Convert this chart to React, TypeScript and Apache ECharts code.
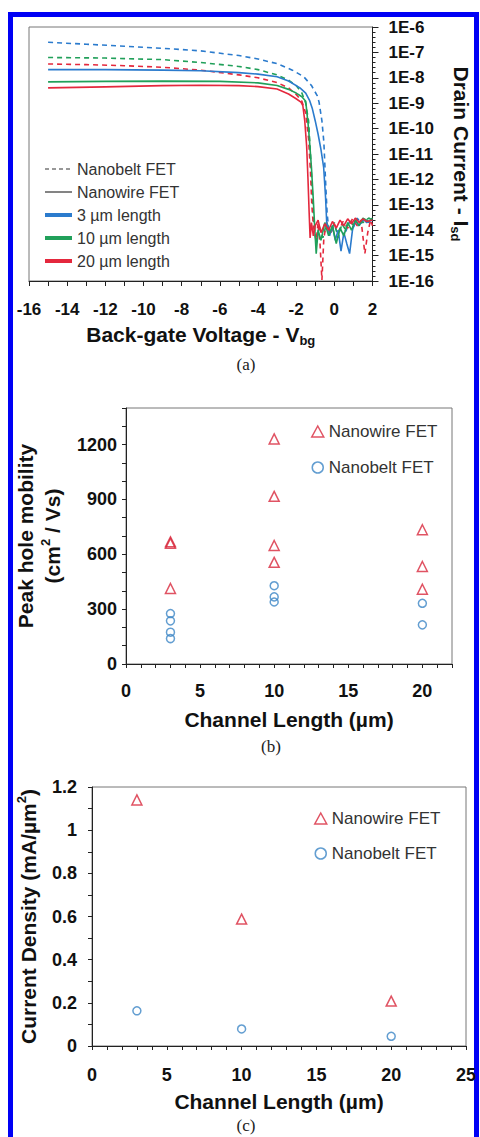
import React, { useEffect, useRef } from 'react';
import * as echarts from 'echarts';

// ---------- (a) transfer curves: [Vbg (V), Isd (A)] ----------
const nanobelt3um: number[][] = [
  [-15, 2.5e-7], [-13, 2.1e-7], [-11, 1.75e-7], [-9, 1.45e-7], [-7, 1.15e-7], [-5, 7.5e-8],
  [-4, 5.5e-8], [-3, 3.6e-8], [-2.2, 2.0e-8], [-1.6, 1.1e-8], [-1.2, 5e-9], [-0.9, 2e-9],
  [-0.8, 1.1e-9], [-0.65, 2e-10], [-0.55, 3e-11], [-0.45, 6e-13], [-0.38, 5e-14], [-0.3, 1.2e-14],
  [-0.2, 8e-15], [0, 1.5e-14], [0.2, 7e-15], [0.4, 2e-14], [0.6, 9e-15], [0.8, 2.2e-14],
  [1.0, 1.3e-14], [1.2, 3e-14], [1.4, 1.8e-14], [1.6, 3e-14], [1.8, 2e-14], [2.0, 2.6e-14],
];
const nanobelt10um: number[][] = [
  [-15, 6.3e-8], [-12, 6.0e-8], [-9, 5.2e-8], [-7, 4.0e-8], [-5, 2.8e-8], [-4, 2.1e-8],
  [-3, 1.3e-8], [-2.4, 8e-9], [-2, 5e-9], [-1.7, 2.5e-9], [-1.5, 1e-9], [-1.35, 2e-10],
  [-1.25, 1e-11], [-1.15, 3e-13], [-1.08, 2e-14], [-0.95, 3e-15], [-0.8, 1.5e-14], [-0.6, 5e-15],
  [-0.4, 2e-14], [-0.2, 8e-15], [0, 2e-14], [0.2, 5e-15], [0.4, 1.8e-14], [0.6, 1e-14],
  [0.8, 2.5e-14], [1.0, 1.5e-14], [1.2, 3e-14], [1.5, 2e-14], [1.8, 3e-14], [2.0, 2.5e-14],
];
const nanobelt20um: number[][] = [
  [-15, 3.5e-8], [-13, 3.3e-8], [-11, 3.0e-8], [-9, 2.6e-8], [-7, 2.0e-8], [-5, 1.3e-8],
  [-4, 1.0e-8], [-3, 6.5e-9], [-2.4, 4e-9], [-2, 2.2e-9], [-1.7, 1.2e-9], [-1.5, 4e-10],
  [-1.35, 4e-11], [-1.25, 2e-12], [-1.18, 1e-13], [-1.1, 1.5e-14], [-0.95, 4e-15], [-0.85, 2e-14],
  [-0.75, 3e-15], [-0.65, 1.1e-16], [-0.55, 5e-15], [-0.4, 2e-14], [-0.2, 7e-15], [0, 1.8e-14],
  [0.2, 8e-15], [0.45, 2.2e-14], [0.7, 1.2e-14], [0.95, 2.8e-14], [1.2, 1.5e-14], [1.4, 2.5e-14],
  [1.6, 1.2e-15], [1.75, 8e-15], [1.9, 2.5e-14], [2.0, 1.5e-14],
];
const nanowire3um: number[][] = [
  [-15, 2.1e-8], [-12, 2.1e-8], [-9, 2.0e-8], [-7, 1.9e-8], [-5, 1.6e-8], [-4, 1.4e-8],
  [-3, 1.1e-8], [-2.4, 7.5e-9], [-1.8, 4e-9], [-1.5, 2.5e-9], [-1.3, 1.3e-9], [-1.15, 6e-10],
  [-1.0, 2e-10], [-0.85, 6e-11], [-0.7, 1.5e-11], [-0.56, 3e-12], [-0.46, 2e-13], [-0.4, 2e-14],
  [-0.25, 6e-15], [-0.1, 1.5e-14], [0.05, 4e-15], [0.2, 1e-14], [0.35, 1.5e-15], [0.5, 8e-15],
  [0.65, 3e-15], [0.8, 1.2e-15], [0.95, 1e-14], [1.1, 2.5e-14], [1.3, 1.5e-14], [1.5, 2.8e-14],
  [1.7, 2e-14], [2.0, 2.5e-14],
];
const nanowire10um: number[][] = [
  [-15, 6.9e-9], [-12, 7.2e-9], [-9, 7.4e-9], [-6, 7.2e-9], [-4, 6.3e-9], [-3, 5e-9],
  [-2.4, 3.5e-9], [-2, 2.5e-9], [-1.7, 1.8e-9], [-1.5, 1.2e-9], [-1.35, 1e-10], [-1.2, 3e-12],
  [-1.1, 1.5e-13], [-1.02, 1e-14], [-0.95, 1.2e-15], [-0.85, 1e-14], [-0.7, 4e-15], [-0.5, 2e-14],
  [-0.3, 6e-15], [-0.1, 1.5e-14], [0.1, 3e-15], [0.3, 1.2e-14], [0.5, 6e-15], [0.7, 2e-14],
  [0.9, 1e-14], [1.1, 2.5e-14], [1.3, 1.5e-14], [1.5, 3e-14], [1.8, 2.2e-14], [2.0, 3e-14],
];
const nanowire20um: number[][] = [
  [-15, 4e-9], [-12, 4.4e-9], [-9, 4.9e-9], [-7, 5.1e-9], [-5, 4.9e-9], [-4, 4.5e-9],
  [-3, 3.6e-9], [-2.4, 2.3e-9], [-2, 1.5e-9], [-1.75, 1.1e-9], [-1.65, 8e-10], [-1.55, 2e-10],
  [-1.45, 2e-11], [-1.38, 1e-12], [-1.32, 5e-14], [-1.27, 5e-15], [-1.2, 2e-14], [-1.1, 6e-15],
  [-1.0, 1.5e-14], [-0.85, 2.5e-14], [-0.7, 8e-15], [-0.5, 1.8e-14], [-0.3, 1e-14], [-0.1, 2.2e-14],
  [0.1, 1.2e-14], [0.3, 2.5e-14], [0.5, 1.5e-14], [0.7, 2.8e-14], [0.9, 1.8e-14], [1.1, 3e-14],
  [1.3, 2e-14], [1.5, 2.8e-14], [1.7, 2.2e-14], [2.0, 2.5e-14],
];

// ---------- (b) peak hole mobility: [channel length (µm), mobility (cm²/Vs)] ----------
const mobilityNanowire: number[][] = [
  [3, 668], [3, 660], [3, 413],
  [10, 1231], [10, 917], [10, 648], [10, 556],
  [20, 734], [20, 533], [20, 409],
];
const mobilityNanobelt: number[][] = [
  [3, 276], [3, 236], [3, 174], [3, 139],
  [10, 428], [10, 367], [10, 339],
  [20, 332], [20, 214],
];

// ---------- (c) current density: [channel length (µm), mA/µm²] ----------
const densityNanowire: number[][] = [[3, 1.14], [10, 0.588], [20, 0.208]];
const densityNanobelt: number[][] = [[3, 0.163], [10, 0.079], [20, 0.045]];

const legendA = ['Nanobelt FET', 'Nanowire FET', '3 µm length', '10 µm length', '20 µm length'];
const legendBC = ['Nanowire FET', 'Nanobelt FET'];

// ---------- styles ----------
const SANS = '"Liberation Sans", Arial, Helvetica, sans-serif';
const SERIF = '"Liberation Serif", "Times New Roman", serif';
const BLUE = '#2b7bcd';
const GREEN = '#21a05a';
const RED = '#e4283d';
const TRI_RED = '#d8283c';
const CIRC_BLUE = '#3c86c6';
const AXIS = '#222';
const FRAME = '#777';
const TXT = '#111';

const axisLine = { show: true, onZero: false, lineStyle: { color: AXIS, width: 1 } };
const tick = (len: number) => ({ show: true, inside: false, length: len, lineStyle: { color: AXIS, width: 1 } });
const tickLabel = (size: number, margin: number) => ({
  fontFamily: SANS, fontWeight: 'bold', fontSize: size, color: TXT, margin,
});
const titleText = { fontFamily: SANS, fontWeight: 'bold', fontSize: 21, color: TXT };
const panelText = { fontFamily: SERIF, fontWeight: 'normal', fontSize: 17, color: '#222' };
const subStyle = { fontFamily: SANS, fontWeight: 'bold', fontSize: 13, color: TXT, lineHeight: 12, verticalAlign: 'bottom' };
const supStyle = { fontFamily: SANS, fontWeight: 'bold', fontSize: 13, color: TXT, lineHeight: 16, verticalAlign: 'top' };

const toLog = (arr: number[][]) => arr.map(([v, i]) => [v, Math.log10(i)]);

const curve = (name: string, data: number[][], color: string, dashed: boolean) => ({
  name, type: 'line', data: toLog(data), symbol: 'none', showSymbol: false, z: dashed ? 2 : 3,
  lineStyle: { color, width: 1.6, type: dashed ? [5, 4] : 'solid' },
});
const dummy = (name: string, color: string, width: number, dashed: boolean) => ({
  name, type: 'line', data: [], symbol: 'none', itemStyle: { color },
  lineStyle: { color, width, type: dashed ? [4, 3] : 'solid' },
});

const optionA: any = {
  animation: false,
  grid: { left: 29, top: 27, width: 347, height: 254, show: true, borderColor: FRAME, borderWidth: 1 },
  title: { text: '(a)', left: 246, top: 356, textAlign: 'center', padding: 0, textStyle: panelText },
  legend: {
    orient: 'vertical', left: 43, top: 161, itemWidth: 27, itemHeight: 14, itemGap: 7, padding: 0,
    selectedMode: false, itemStyle: { opacity: 0 },
    textStyle: { fontFamily: SANS, fontSize: 16, color: '#333' },
    data: [
      { name: legendA[0], lineStyle: { width: 1.2 } },
      { name: legendA[1], lineStyle: { width: 1.2 } },
      { name: legendA[2], lineStyle: { width: 4 } },
      { name: legendA[3], lineStyle: { width: 4 } },
      { name: legendA[4], lineStyle: { width: 4 } },
    ],
  },
  xAxis: {
    type: 'value', min: -16, max: 2, interval: 2,
    axisLine, axisTick: tick(5),
    minorTick: { show: true, splitNumber: 2, length: 5, lineStyle: { color: AXIS } },
    splitLine: { show: false },
    axisLabel: tickLabel(17, 20),
    name: '{m|Back-gate Voltage - V}{s|bg}', nameLocation: 'middle', nameGap: 40,
    nameTextStyle: { rich: { m: { ...titleText, lineHeight: 26 }, s: subStyle } },
  },
  yAxis: {
    type: 'value', position: 'right', min: -16, max: -6, interval: 1,
    axisLine, axisTick: tick(6),
    minorTick: { show: true, splitNumber: 5, length: 3, lineStyle: { color: AXIS } },
    splitLine: { show: false },
    axisLabel: { ...tickLabel(17, 16), formatter: (v: number) => '1E' + v },
    name: '{m|Drain Current - I}{s|sd}', nameLocation: 'middle', nameRotate: -90, nameGap: 76,
    nameTextStyle: { rich: { m: { ...titleText, lineHeight: 26 }, s: subStyle } },
  },
  series: [
    curve('Nanobelt 3 µm', nanobelt3um, BLUE, true),
    curve('Nanobelt 10 µm', nanobelt10um, GREEN, true),
    curve('Nanobelt 20 µm', nanobelt20um, RED, true),
    curve('Nanowire 3 µm', nanowire3um, BLUE, false),
    curve('Nanowire 10 µm', nanowire10um, GREEN, false),
    curve('Nanowire 20 µm', nanowire20um, RED, false),
    dummy(legendA[0], '#333', 1.2, true),
    dummy(legendA[1], '#333', 1.2, false),
    dummy(legendA[2], BLUE, 4, false),
    dummy(legendA[3], GREEN, 4, false),
    dummy(legendA[4], RED, 4, false),
  ],
};

const scatterSeries = (wire: number[][], belt: number[][]) => [
  {
    name: legendBC[0], type: 'scatter', data: wire, symbol: 'triangle', symbolSize: 10,
    itemStyle: { color: 'rgba(255,255,255,0)', borderColor: TRI_RED, borderWidth: 1.5 },
  },
  {
    name: legendBC[1], type: 'scatter', data: belt, symbol: 'circle', symbolSize: 8,
    itemStyle: { color: 'rgba(255,255,255,0)', borderColor: CIRC_BLUE, borderWidth: 1.5 },
  },
];

const legendBCStyle = (left: number, top: number, gap: number) => ({
  orient: 'vertical', left, top, itemWidth: 12, itemHeight: 11, itemGap: gap, padding: 0,
  selectedMode: false, itemStyle: { borderWidth: 1.5 },
  textStyle: { fontFamily: SANS, fontSize: 17, color: '#333' },
  data: legendBC,
});

const optionB: any = {
  animation: false,
  grid: { left: 126, top: 28, width: 326, height: 256, show: true, borderColor: FRAME, borderWidth: 1 },
  title: { text: '(b)', left: 271, top: 358, textAlign: 'center', padding: 0, textStyle: panelText },
  legend: legendBCStyle(311, 43, 19),
  xAxis: {
    type: 'value', min: 0, max: 22, interval: 1,
    axisLine, axisTick: tick(4), splitLine: { show: false },
    axisLabel: { ...tickLabel(18, 18), formatter: (v: number) => (v % 5 === 0 ? String(v) : '') },
    name: 'Channel Length (µm)', nameLocation: 'middle', nameGap: 45, nameTextStyle: titleText,
  },
  yAxis: {
    type: 'value', min: 0, max: 1400, interval: 100,
    axisLine, axisTick: tick(4), splitLine: { show: false },
    axisLabel: { ...tickLabel(18, 9), formatter: (v: number) => (v % 300 === 0 ? String(v) : '') },
    name: 'Peak hole mobility\n(cm{p|2} / Vs)', nameLocation: 'middle', nameRotate: 90, nameGap: 55,
    nameTextStyle: { ...titleText, lineHeight: 27, rich: { p: supStyle } },
  },
  series: scatterSeries(mobilityNanowire, mobilityNanobelt),
};

const optionC: any = {
  animation: false,
  grid: { left: 92, top: 27, width: 374, height: 259, show: true, borderColor: FRAME, borderWidth: 1 },
  title: { text: '(c)', left: 246, top: 357, textAlign: 'center', padding: 0, textStyle: panelText },
  legend: legendBCStyle(314, 50, 18),
  xAxis: {
    type: 'value', min: 0, max: 25, interval: 5,
    axisLine, axisTick: tick(4),
    minorTick: { show: true, splitNumber: 5, length: 4, lineStyle: { color: AXIS } },
    splitLine: { show: false },
    axisLabel: tickLabel(18, 20),
    name: 'Channel Length (µm)', nameLocation: 'middle', nameGap: 45, nameTextStyle: titleText,
  },
  yAxis: {
    type: 'value', min: 0, max: 1.2, interval: 0.2,
    axisLine, axisTick: tick(4),
    minorTick: { show: true, splitNumber: 2, length: 4, lineStyle: { color: AXIS } },
    splitLine: { show: false },
    axisLabel: tickLabel(18, 15),
    name: 'Current Density (mA/µm{p|2})', nameLocation: 'middle', nameRotate: 90, nameGap: 50,
    nameTextStyle: { ...titleText, lineHeight: 26, rich: { p: supStyle } },
  },
  series: scatterSeries(densityNanowire, densityNanobelt),
};

function Chart({ option, top, height }: { option: any; top: number; height: number }) {
  const ref = useRef<HTMLDivElement>(null);
  useEffect(() => {
    if (!ref.current) return;
    const chart = echarts.init(ref.current, undefined, { renderer: 'svg' });
    chart.setOption(option);
    return () => chart.dispose();
  }, [option]);
  return <div ref={ref} style={{ position: 'absolute', left: 0, top, width: 480, height }} />;
}

export default function App() {
  return (
    <div style={{ position: 'absolute', left: 0, top: 0, width: 480, height: 1137, background: '#fff', overflow: 'hidden' }}>
      <div
        style={{
          position: 'absolute', left: 8, top: 12, width: 471, height: 1140, boxSizing: 'border-box',
          borderLeft: '5px solid #0000f5', borderTop: '5px solid #0000f5', borderRight: '5px solid #0000f5',
        }}
      />
      <Chart option={optionA} top={0} height={380} />
      <Chart option={optionB} top={380} height={380} />
      <Chart option={optionC} top={760} height={377} />
    </div>
  );
}
